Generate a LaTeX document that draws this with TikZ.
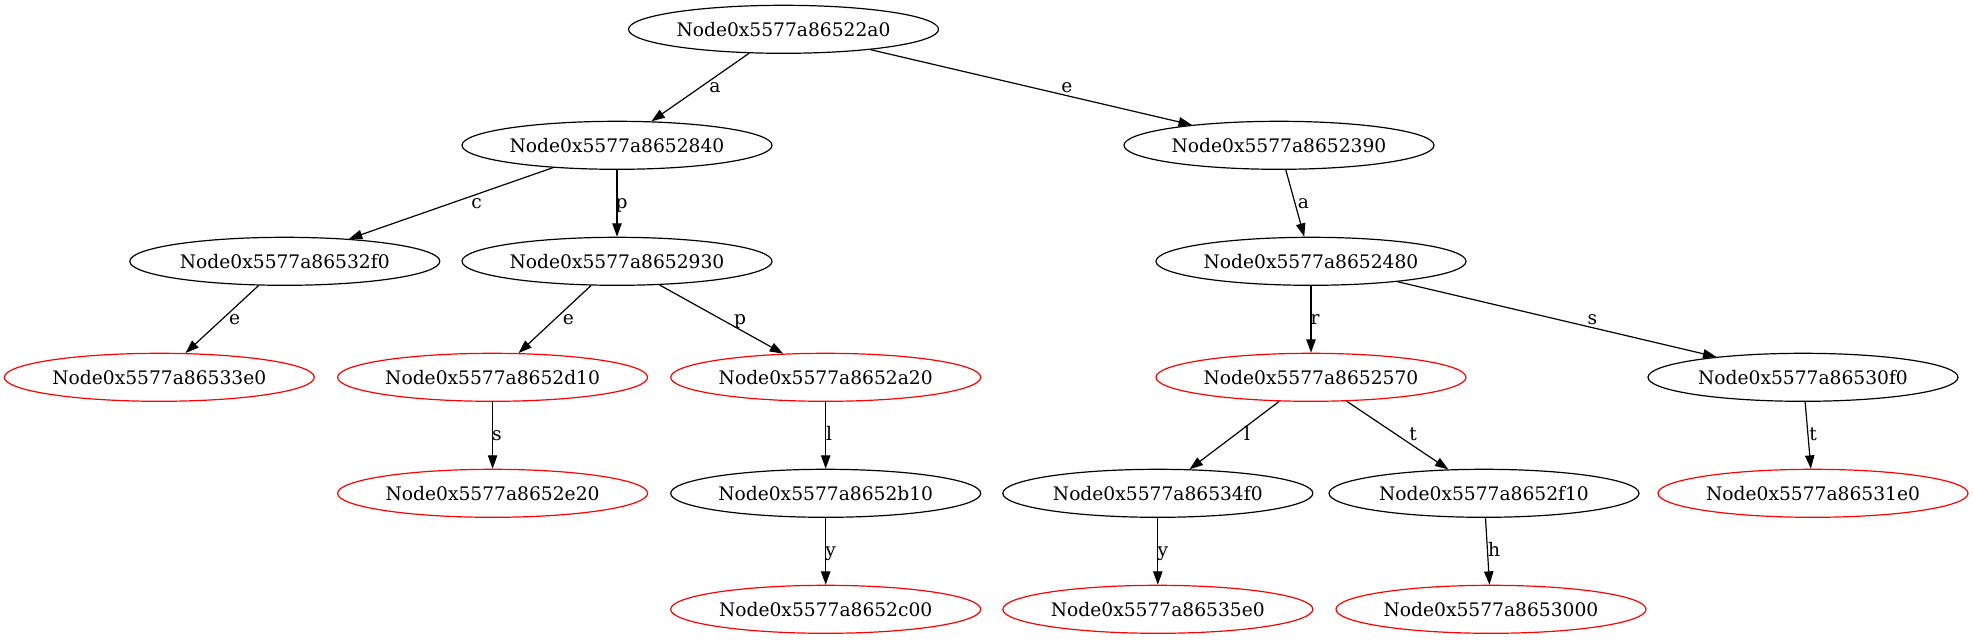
\documentclass[tikz,border=0pt]{standalone}
\usepackage{fontspec}
\setmainfont{DejaVu Serif}
\usetikzlibrary{shapes.geometric,arrows.meta}
\begin{document}
\begin{tikzpicture}[x=0.75pt,y=-0.75pt,
  gnode/.style={ellipse,draw=black,line width=0.9pt,minimum width=232.5pt,minimum height=36pt,inner sep=0pt,font=\fontsize{14pt}{16pt}\selectfont},
  rnode/.style={gnode,draw=red},
  gedge/.style={-{Triangle[length=10pt,width=7pt]},line width=0.9pt},
  elabel/.style={anchor=base,inner sep=0pt,font=\fontsize{14pt}{16pt}\selectfont}]
\useasboundingbox[fill=white] (0,0) rectangle (1974,639);
% rows
\node[gnode] (root) at (783.5,29.3) {Node0x5577a86522a0};
\node[gnode] (n840) at (617,145.3) {Node0x5577a8652840};
\node[gnode] (n390) at (1279,145.3) {Node0x5577a8652390};
\node[gnode] (n32f0) at (284.8,261.3) {Node0x5577a86532f0};
\node[gnode] (n930) at (617,261.3) {Node0x5577a8652930};
\node[gnode] (n480) at (1311,261.3) {Node0x5577a8652480};
\node[rnode] (n33e0) at (159.3,377.3) {Node0x5577a86533e0};
\node[rnode] (nd10) at (492.6,377.3) {Node0x5577a8652d10};
\node[rnode] (na20) at (825.7,377.3) {Node0x5577a8652a20};
\node[rnode] (n570) at (1311,377.3) {Node0x5577a8652570};
\node[gnode] (n30f0) at (1803,377.3) {Node0x5577a86530f0};
\node[rnode] (ne20) at (492.6,493.3) {Node0x5577a8652e20};
\node[gnode] (nb10) at (825.7,493.3) {Node0x5577a8652b10};
\node[gnode] (n34f0) at (1157.8,493.3) {Node0x5577a86534f0};
\node[gnode] (n2f10) at (1484,493.3) {Node0x5577a8652f10};
\node[rnode] (n31e0) at (1813,493.3) {Node0x5577a86531e0};
\node[rnode] (nc00) at (825.7,609.3) {Node0x5577a8652c00};
\node[rnode] (n35e0) at (1157.8,609.3) {Node0x5577a86535e0};
\node[rnode] (n3000) at (1491,609.3) {Node0x5577a8653000};
% edges
\draw[gedge] (root) -- (n840);
\draw[gedge] (root) -- (n390);
\draw[gedge] (n840) -- (n32f0);
\draw[gedge] (n840) -- (n930);
\draw[gedge] (n390) -- (n480);
\draw[gedge] (n32f0) -- (n33e0);
\draw[gedge] (n930) -- (nd10);
\draw[gedge] (n930) -- (na20);
\draw[gedge] (n480) -- (n570);
\draw[gedge] (n480) -- (n30f0);
\draw[gedge] (nd10) -- (ne20);
\draw[gedge] (na20) -- (nb10);
\draw[gedge] (n570) -- (n34f0);
\draw[gedge] (n570) -- (n2f10);
\draw[gedge] (n30f0) -- (n31e0);
\draw[gedge] (nb10) -- (nc00);
\draw[gedge] (n34f0) -- (n35e0);
\draw[gedge] (n2f10) -- (n3000);
% edge labels
\node[elabel] (l1) at (715,92.8) {a};
\node[elabel] (l2) at (1067,92.8) {e};
\node[elabel] (l3) at (476.7,208.8) {c};
\node[elabel] (l4) at (621.7,208.8) {p};
\node[elabel] (l5) at (1303.5,208.8) {a};
\node[elabel] (l6) at (234.7,324.8) {e};
\node[elabel] (l7) at (568.3,324.8) {e};
\node[elabel] (l8) at (740,324.8) {p};
\node[elabel] (l9) at (1315,324.8) {r};
\node[elabel] (l10) at (1592.4,324.8) {s};
\node[elabel] (l11) at (497,440.8) {s};
\node[elabel] (l12) at (829,440.8) {l};
\node[elabel] (l13) at (1247,440.8) {l};
\node[elabel] (l14) at (1413,440.8) {t};
\node[elabel] (l15) at (1813,440.8) {t};
\node[elabel] (l16) at (830.7,556.8) {y};
\node[elabel] (l17) at (1163,556.8) {y};
\node[elabel] (l18) at (1494,556.8) {h};
\end{tikzpicture}
\end{document}
